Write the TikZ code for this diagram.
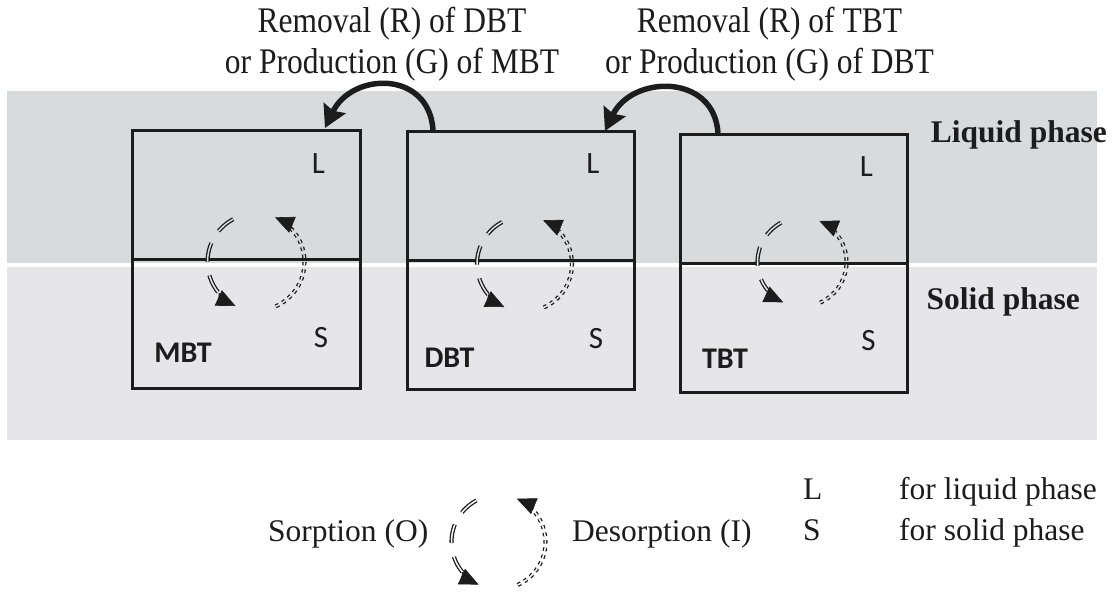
\documentclass[tikz,border=0pt]{standalone}
\usepackage{fontspec}
\setmainfont{Liberation Serif}
\newfontfamily\condserif[FakeStretch=0.875]{Liberation Serif}
\newfontfamily\calfont{Carlito}
\usetikzlibrary{arrows.meta}
\definecolor{liq}{RGB}{217,218,220}
\definecolor{sol}{RGB}{230,229,231}
\definecolor{ink}{RGB}{28,28,28}
\tikzset{
  ser/.style={font=\fontsize{31.5}{38}\selectfont, inner sep=0pt, text=ink},
  sercond/.style={font=\condserif\fontsize{36}{40}\selectfont, inner sep=0pt, text=ink},
  serb/.style={font=\fontsize{31.5}{38}\selectfont\bfseries, inner sep=0pt, text=ink},
  lab/.style={font=\calfont\fontsize{31}{34}\selectfont, inner sep=0pt, text=ink},
  labb/.style={font=\calfont\fontsize{30}{34}\selectfont\bfseries, inner sep=0pt, text=ink},
  boxst/.style={draw=ink, line width=3pt, minimum width=228pt, minimum height=258pt, inner sep=0pt},
  divst/.style={draw=ink, line width=3pt},
  sorp/.style={draw=ink, line width=1.3pt, double distance=1.5pt, dash pattern=on 19pt off 14pt},
  desorp/.style={draw=ink, line width=1.3pt, double distance=1.5pt, dash pattern=on 3.5pt off 4pt},
  tipst/.style={draw=ink, fill=ink, line width=0.6pt, -{Triangle[length=19pt,width=17pt]}},
  bigarrow/.style={draw=ink, line width=5.5pt, -{Stealth[length=22pt,width=24pt,inset=3pt]}},
}
\newcommand\sdarcs[4]{%
  \draw[sorp, double=#4] (#1,#2) ++(118:#3) arc[start angle=118, end angle=220, radius=#3];
  \draw[desorp, double=#4] (#1,#2) ++(-66:#3) arc[start angle=-66, end angle=44, radius=#3];
}
\newcommand\sdtips[3]{%
  \draw[tipst] (#1,#2) ++(220:#3) arc[start angle=220, end angle=245, radius=#3];
  \draw[tipst] (#1,#2) ++(43:#3) arc[start angle=43, end angle=67, radius=#3];
}
\begin{document}
\begin{tikzpicture}[x=1pt, y=1pt]
\useasboundingbox (0,0) rectangle (1117,-593);
% bands
\fill[liq] (7,-91) rectangle (1097,-263);
\fill[sol] (7,-267) rectangle (1097,-440);
% boxes
\node[boxst] (b1) at (246,-260) {};
\node[boxst, minimum width=227pt] (b2) at (520.5,-261) {};
\node[boxst, minimum width=227pt] (b3) at (793.5,-264) {};
\draw[divst] (b1.west) -- (b1.east);
\draw[divst] (b2.west) -- (b2.east);
\draw[divst] (b3.west) -- (b3.east);
% box labels
\node[lab] (l1) at (318.5,-163.5) {L};
\node[lab] (s1) at (321,-337.5) {S};
\node[labb] (m1) at (183,-352.5) {MBT};
\node[lab] (l2) at (593,-163.5) {L};
\node[lab] (s2) at (596,-339) {S};
\node[labb] (m2) at (449.5,-357.5) {DBT};
\node[lab] (l3) at (866.5,-166.5) {L};
\node[lab] (s3) at (868.5,-341) {S};
\node[labb] (m3) at (725,-359) {TBT};
% sorption / desorption arcs in boxes
\begin{scope}
  \clip (0,0) rectangle (1117,-263);
  \sdarcs{256}{-262}{48.5}{liq}
  \sdarcs{524.5}{-264}{47.5}{liq}
  \sdarcs{802}{-262}{44.5}{liq}
\end{scope}
\begin{scope}
  \clip (0,-263) rectangle (1117,-267);
  \sdarcs{256}{-262}{48.5}{white}
  \sdarcs{524.5}{-264}{47.5}{white}
  \sdarcs{802}{-262}{44.5}{white}
\end{scope}
\begin{scope}
  \clip (0,-267) rectangle (1117,-593);
  \sdarcs{256}{-262}{48.5}{sol}
  \sdarcs{524.5}{-264}{47.5}{sol}
  \sdarcs{802}{-262}{44.5}{sol}
\end{scope}
\sdtips{256}{-262}{48.5}
\sdtips{524.5}{-264}{47.5}
\sdtips{802}{-262}{44.5}
% legend arcs
\sdarcs{498.5}{-542}{47}{white}
\sdtips{498.5}{-542}{47}
% transfer arrows
\coordinate (a1s) at (433,-130);
\coordinate (a1e) at (325,-128);
\coordinate (a2s) at (718,-133);
\coordinate (a2e) at (605,-131);
\draw[bigarrow] (a1s) .. controls (429,-70) and (352,-72) .. (a1e);
\draw[bigarrow] (a2s) .. controls (714,-73) and (632,-75) .. (a2e);
% texts
\node[sercond, anchor=base] (t1a) at (392,-33) {Removal (R) of DBT};
\node[sercond, anchor=base] (t1b) at (392,-74) {or Production (G) of MBT};
\node[sercond, anchor=base] (t2a) at (769.5,-33) {Removal (R) of TBT};
\node[sercond, anchor=base] (t2b) at (769.5,-74) {or Production (G) of DBT};
\node[serb, anchor=base east] (lp) at (1107,-143) {Liquid phase};
\node[serb, anchor=base east] (sp) at (1080,-310) {Solid phase};
\node[ser, anchor=base west] (so) at (268,-541) {Sorption (O)};
\node[ser, anchor=base west] (de) at (572,-541) {Desorption (I)};
\node[ser, anchor=base west] (kL) at (803,-500) {L};
\node[ser, anchor=base west] (kS) at (803,-540) {S};
\node[ser, anchor=base west] (dL) at (899,-500) {for liquid phase};
\node[ser, anchor=base west] (dS) at (899,-540) {for solid phase};
\end{tikzpicture}
\end{document}
